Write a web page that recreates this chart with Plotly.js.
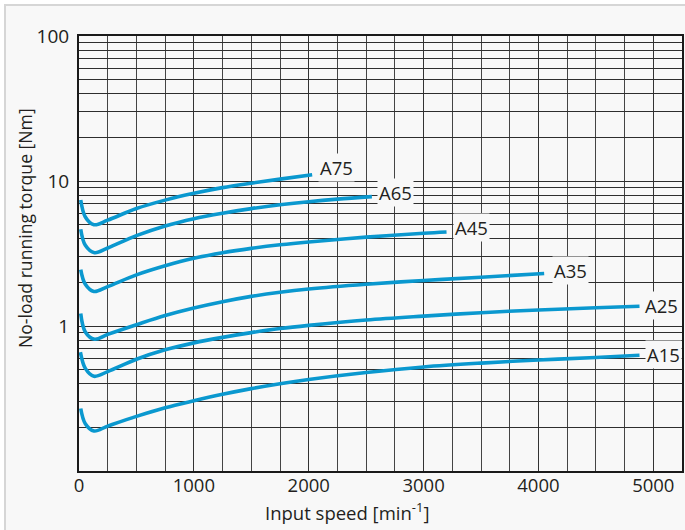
<!DOCTYPE html>
<html>
<head>
<meta charset="utf-8">
<script src="https://cdn.plot.ly/plotly-3.0.1.min.js"></script>
<style>
  html, body { margin: 0; padding: 0; background: #ffffff; }
  #frame { position: absolute; left: 4px; top: 4px; width: 681px; height: 526px;
           background: #f8f8f8; border-left: 2px solid #d6d6d6; border-top: 2px solid #d6d6d6; box-sizing: border-box; }
  #chart { position: absolute; left: 0; top: 0; width: 685px; height: 530px; }
</style>
</head>
<body>
<div id="frame"></div>
<div id="chart"></div>
<script>
// ---- data ----
const seriesNames = ["A75", "A65", "A45", "A35", "A25", "A15"];

const speedA75 = [15, 55, 130, 250, 500, 750, 1000, 1250, 1500, 1750, 2030];
const torqueA75 = [7.4, 5.65, 5.0, 5.37, 6.46, 7.38, 8.22, 9.0, 9.66, 10.3, 11.04];

const speedA65 = [15, 55, 135, 250, 500, 750, 1000, 1250, 1500, 1750, 2000, 2250, 2550];
const torqueA65 = [4.65, 3.6, 3.2, 3.45, 4.2, 4.9, 5.5, 6.0, 6.45, 6.85, 7.2, 7.5, 7.8];

const speedA45 = [15, 55, 130, 250, 500, 750, 1000, 1250, 1500, 1750, 2000, 2500, 3000, 3200];
const torqueA45 = [2.45, 1.94, 1.73, 1.87, 2.25, 2.6, 2.93, 3.2, 3.43, 3.63, 3.8, 4.1, 4.36, 4.45];

const speedA35 = [15, 55, 135, 250, 500, 750, 1000, 1250, 1500, 1750, 2000, 2500, 3000, 3500, 4050];
const torqueA35 = [1.22, 0.91, 0.81, 0.875, 1.02, 1.18, 1.33, 1.47, 1.6, 1.71, 1.8, 1.94, 2.06, 2.17, 2.3];

const speedA25 = [12, 55, 130, 250, 500, 750, 1000, 1250, 1500, 1750, 2000, 2500, 3000, 3500, 4000, 4500, 4880];
const torqueA25 = [0.66, 0.51, 0.45, 0.485, 0.59, 0.685, 0.765, 0.835, 0.9, 0.96, 1.01, 1.1, 1.17, 1.235, 1.29, 1.335, 1.37];

const speedA15 = [15, 55, 130, 250, 500, 750, 1000, 1250, 1500, 1750, 2000, 2500, 3000, 3500, 4000, 4500, 4880];
const torqueA15 = [0.27, 0.212, 0.189, 0.204, 0.238, 0.273, 0.305, 0.338, 0.37, 0.4, 0.428, 0.478, 0.522, 0.555, 0.583, 0.607, 0.628];

const xTickVals = [0, 1000, 2000, 3000, 4000, 5000];
const xTickText = ["0", "1000", "2000", "3000", "4000", "5000"];
const yTickVals = [0.1,0.2,0.3,0.4,0.5,0.6,0.7,0.8,0.9,1,2,3,4,5,6,7,8,9,10,20,30,40,50,60,70,80,90,100];
const yTickText = ["","","","","","","","","","1","","","","","","","","","10","","","","","","","","","100"];

const xTitle = "Input speed [min<sup>-1</sup>]";
const yTitle = "No-load running torque [Nm]";

// ---- build ----
const speeds = [speedA75, speedA65, speedA45, speedA35, speedA25, speedA15];
const torques = [torqueA75, torqueA65, torqueA45, torqueA35, torqueA25, torqueA15];
const lineColor = "#0a98cf";
const FONT = "Open Sans, sans-serif";
const textColor = "#231f20";

const traces = seriesNames.map((n, i) => ({
  type: "scatter", mode: "lines", name: n,
  x: speeds[i], y: torques[i],
  line: { color: lineColor, width: 3.6, shape: "spline", smoothing: 1 },
  hoverinfo: "skip"
}));

const labelShiftY = [7, 4, 4, 3, 1, 1];
const labelShiftX = [6, 5, 6, 8, 3, 5];
const annotations = seriesNames.map((n, i) => ({
  x: speeds[i][speeds[i].length - 1],
  y: Math.log10(torques[i][torques[i].length - 1]),
  xref: "x", yref: "y", text: n, showarrow: false,
  xanchor: "left", yanchor: "middle",
  xshift: labelShiftX[i], yshift: labelShiftY[i],
  bgcolor: "#f8f8f8", borderpad: 1,
  font: { family: FONT, size: 18.5, color: textColor }
}));

annotations.push({
  text: xTitle, xref: "paper", yref: "paper", x: 0.445, y: -0.094,
  xanchor: "center", yanchor: "middle", showarrow: false,
  font: { family: FONT, size: 18.5, color: textColor }
});
annotations.push({
  text: yTitle, xref: "paper", yref: "paper", x: -0.0896, y: 0.5586,
  xanchor: "center", yanchor: "middle", showarrow: false, textangle: -90,
  font: { family: FONT, size: 17.6, color: textColor }
});

const layout = {
  width: 685, height: 530,
  margin: { l: 79, r: 3, t: 36, b: 59 },
  paper_bgcolor: "rgba(0,0,0,0)",
  plot_bgcolor: "#f8f8f8",
  showlegend: false,
  font: { family: FONT, size: 18, color: textColor },
  xaxis: {
    range: [0, 5250],
    tickmode: "array", tickvals: xTickVals, ticktext: xTickText,
    showgrid: true, gridcolor: "#333333", gridwidth: 1,
    minor: { dtick: 250, tick0: 0, showgrid: true, gridcolor: "#444444", gridwidth: 1 },
    showline: true, linecolor: "#1a1a1a", linewidth: 2, mirror: true,
    zeroline: false, ticks: "", ticklabelstandoff: -3,
    tickfont: { family: FONT, size: 18.5, color: textColor }
  },
  yaxis: {
    type: "log", range: [-1, 2],
    tickmode: "array", tickvals: yTickVals, ticktext: yTickText,
    showgrid: true, gridcolor: "#2e2e2e", gridwidth: 1,
    showline: true, linecolor: "#1a1a1a", linewidth: 2, mirror: true,
    zeroline: false, ticks: "", ticklabelstandoff: 4,
    tickfont: { family: FONT, size: 19, color: textColor }
  },
  annotations: annotations
};

Plotly.newPlot("chart", traces, layout, { staticPlot: true, displayModeBar: false });
</script>
</body>
</html>
